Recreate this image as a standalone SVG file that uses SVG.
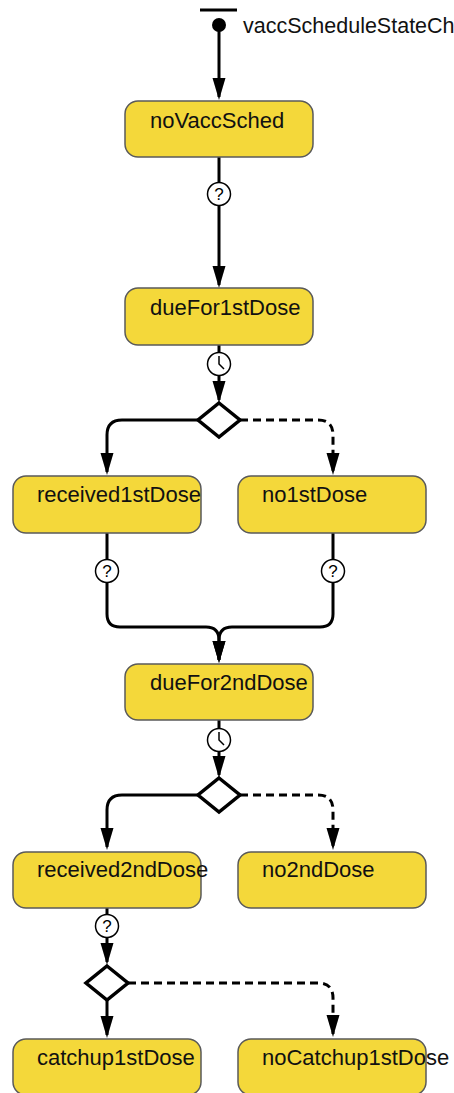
<svg xmlns="http://www.w3.org/2000/svg" width="454" height="1093" viewBox="0 0 454 1093">
<defs>
<style>
.node rect{fill:#F4D83A;stroke:#5a5a5a;stroke-width:1.5}
.node text{font-family:"Liberation Sans",Arial,sans-serif;font-size:22px;fill:#111}
.conn{fill:none;stroke:#000;stroke-width:3}
.dash{stroke-dasharray:8 5}
.ico circle{fill:#fff;stroke:#000;stroke-width:1.5}
.ico text{font-family:"Liberation Sans",Arial,sans-serif;font-size:17px;text-anchor:middle;fill:#000}
.ico path{fill:none;stroke:#000;stroke-width:1.5}
.dia{fill:#fff;stroke:#000;stroke-width:3.5;stroke-linejoin:miter}
.lbl{font-family:"Liberation Sans",Arial,sans-serif;font-size:21.5px;fill:#111}
</style>
<marker id="ah" markerUnits="userSpaceOnUse" markerWidth="24" markerHeight="14" refX="19" refY="6.5" orient="auto">
<path d="M0,0 L22,6.5 L0,13 z" fill="#000"/>
</marker>
</defs>
<rect width="454" height="1093" fill="#fff"/>

<g id="connectors">
<path class="conn" d="M219,25 V97" marker-end="url(#ah)"/>
<path class="conn" d="M219,157 V285" marker-end="url(#ah)"/>
<path class="conn" d="M219,345 V400" marker-end="url(#ah)"/>
<path class="conn" d="M198,420 H122 Q107,420 107,435 V472" marker-end="url(#ah)"/>
<path class="conn dash" d="M240,420 H318 Q333,420 333,435 V472" marker-end="url(#ah)"/>
<path class="conn" d="M107,533 V614 Q107,627 120,627 H206 Q219,627 219,640 V660" marker-end="url(#ah)"/>
<path class="conn" d="M333,533 V614 Q333,627 320,627 H232 Q219,627 219,640 V660" marker-end="url(#ah)"/>
<path class="conn" d="M219,720 V775" marker-end="url(#ah)"/>
<path class="conn" d="M198,795 H122 Q107,795 107,810 V847" marker-end="url(#ah)"/>
<path class="conn dash" d="M240,795 H318 Q333,795 333,810 V847" marker-end="url(#ah)"/>
<path class="conn" d="M107,908 V962" marker-end="url(#ah)"/>
<path class="conn" d="M107,1000 V1035" marker-end="url(#ah)"/>
<path class="conn dash" d="M128,983 H318 Q333,983 333,998 V1034" marker-end="url(#ah)"/>
<g class="ico"><circle cx="219" cy="194" r="11.5"/><text x="219" y="200">?</text></g>
<g class="ico"><circle cx="219" cy="364" r="11.5"/><path d="M219,356 V364 L224,369"/></g>
<g class="ico"><circle cx="107" cy="571" r="11.5"/><text x="107" y="577">?</text></g>
<g class="ico"><circle cx="333" cy="571" r="11.5"/><text x="333" y="577">?</text></g>
<g class="ico"><circle cx="219" cy="740" r="11.5"/><path d="M219,732 V740 L224,745"/></g>
<g class="ico"><circle cx="107" cy="926" r="11.5"/><text x="107" y="932">?</text></g>
</g>

<g id="initial">
<path d="M200,10 H237" stroke="#000" stroke-width="3"/>
<circle cx="219" cy="25" r="7" fill="#000"/>
<text class="lbl" x="243" y="33">vaccScheduleStateCh</text>
</g>

<g id="choice1"><polygon class="dia" points="219,403 240,420 219,437 198,420"/></g>
<g id="choice2"><polygon class="dia" points="219,778 240,795 219,812 198,795"/></g>
<g id="choice3"><polygon class="dia" points="107,966 128,983 107,1000 86,983"/></g>

<g id="noVaccSched" class="node"><rect x="125" y="101" width="188" height="56" rx="13"/><text x="150" y="128">noVaccSched</text></g>
<g id="dueFor1stDose" class="node"><rect x="125" y="288" width="188" height="57" rx="13"/><text x="150" y="315">dueFor1stDose</text></g>
<g id="received1stDose" class="node"><rect x="13" y="476" width="188" height="57" rx="13"/><text x="37" y="502">received1stDose</text></g>
<g id="no1stDose" class="node"><rect x="238" y="476" width="188" height="57" rx="13"/><text x="262" y="502">no1stDose</text></g>
<g id="dueFor2ndDose" class="node"><rect x="125" y="664" width="188" height="56" rx="13"/><text x="150" y="690">dueFor2ndDose</text></g>
<g id="received2ndDose" class="node"><rect x="13" y="852" width="188" height="56" rx="13"/><text x="37" y="877">received2ndDose</text></g>
<g id="no2ndDose" class="node"><rect x="238" y="852" width="188" height="56" rx="13"/><text x="262" y="877">no2ndDose</text></g>
<g id="catchup1stDose" class="node"><rect x="13" y="1039" width="188" height="56" rx="13"/><text x="37" y="1065">catchup1stDose</text></g>
<g id="noCatchup1stDose" class="node"><rect x="238" y="1039" width="188" height="56" rx="13"/><text x="262" y="1065">noCatchup1stDose</text></g>
</svg>
